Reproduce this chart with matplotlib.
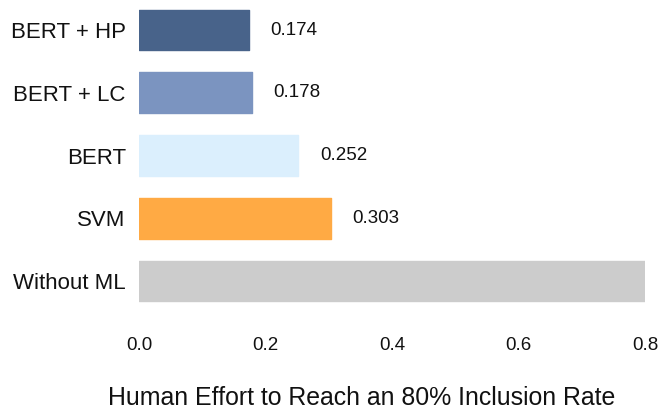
import matplotlib
matplotlib.use("Agg")
import matplotlib.pyplot as plt

categories = ["BERT + HP", "BERT + LC", "BERT", "SVM", "Without ML"]
values = [0.174, 0.178, 0.252, 0.303, 0.8]
value_labels = ["0.174", "0.178", "0.252", "0.303", ""]
colors = ["#48638a", "#7b94c0", "#dbeffd", "#ffaa44", "#cccccc"]
xticks = [0.0, 0.2, 0.4, 0.6, 0.8]
xlabel = "Human Effort to Reach an 80% Inclusion Rate"

plt.rcParams['font.family'] = ['Liberation Sans', 'DejaVu Sans']

fig = plt.figure(figsize=(6.62, 4.09), dpi=100)
ax = fig.add_axes([139/662, 1 - 309.2/409, (645-139)/662, 307.4/409])

ypos = list(range(len(categories)))
bars = ax.barh(ypos, values, height=0.65, color=colors, edgecolor=colors,
               linewidth=1.0, joinstyle='round')
for b, lab in zip(bars, value_labels):
    if lab:
        ax.annotate(lab, (b.get_width(), b.get_y() + b.get_height()/2),
                    xytext=(15.5, 0), textcoords='offset points',
                    ha='left', va='center', fontsize=13.5, color='#111111')

ax.set_xlim(0, 0.8)
ax.set_ylim(4.45, -0.45)
ax.set_yticks(ypos)
ax.set_yticklabels(categories, fontsize=16, color='#111111')
ax.set_xticks(xticks)
ax.set_xticklabels([f"{t:.1f}" for t in xticks], fontsize=13.5, color='#111111')
ax.tick_params(axis='y', length=0, pad=9.5)
ax.tick_params(axis='x', length=0, pad=20)
ax.set_xlabel(xlabel, fontsize=17.9, color='#111111')
ax.xaxis.set_label_coords((362 - 139) / 506, -(398 - 309.2) / 307.4)
ax.xaxis.label.set_va('center')
for s in ax.spines.values():
    s.set_visible(False)

fig.savefig("out.png", dpi=100)
